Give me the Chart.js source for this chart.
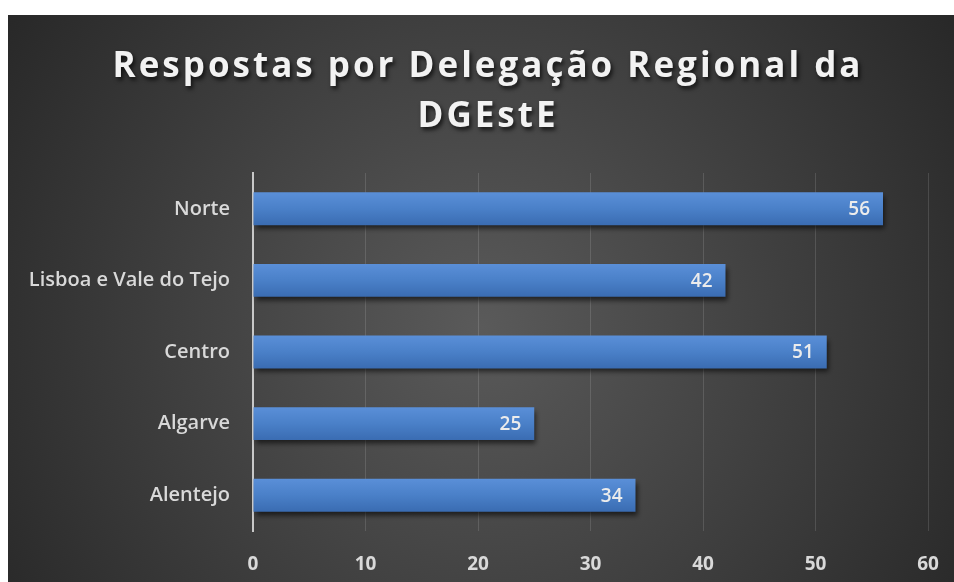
<!DOCTYPE html>
<html>
<head>
<meta charset="utf-8">
<script src="https://cdn.jsdelivr.net/npm/chart.js@4/dist/chart.umd.min.js"></script>
<style>
  html, body { margin: 0; padding: 0; background: #fff; overflow: hidden; }
  #wrap { position: absolute; left: 8px; top: 15px; width: 946px; height: 567px; }
</style>
</head>
<body>
<div id="wrap"><canvas id="regionChart"></canvas></div>
<script>
const regions = ['Norte', 'Lisboa e Vale do Tejo', 'Centro', 'Algarve', 'Alentejo'];
const answers = [56, 42, 51, 25, 34];
const xTicks = [0, 10, 20, 30, 40, 50, 60];
const titleLines = ['Respostas por Delegação Regional da', 'DGEstE'];

// dark radial background
const backdrop = {
    id: 'backdrop',
    beforeDraw(chart) {
        const ctx = chart.ctx;
        const w = chart.width, h = chart.height;
        const g = ctx.createRadialGradient(w * 0.5, h * 0.55, 0, w * 0.5, h * 0.55, w * 0.6);
        g.addColorStop(0, '#5a5a5a');
        g.addColorStop(1, '#282828');
        ctx.save();
        ctx.fillStyle = g;
        ctx.fillRect(0, 0, w, h);
        ctx.restore();
    }
};

// title with shadow and letter spacing
const bigTitle = {
    id: 'bigTitle',
    afterDraw(chart) {
        const ctx = chart.ctx;
        ctx.save();
        ctx.font = 'bold 35px "Open Sans"';
        ctx.letterSpacing = '3px';
        ctx.fillStyle = '#f2f2f2';
        ctx.textAlign = 'center';
        ctx.textBaseline = 'alphabetic';
        ctx.shadowColor = 'rgba(0,0,0,0.7)';
        ctx.shadowOffsetX = 2;
        ctx.shadowOffsetY = 3;
        ctx.shadowBlur = 4;
        titleLines.forEach(function (line, i) {
            ctx.fillText(line, chart.width / 2 + 7, 62 + i * 50);
        });
        ctx.restore();
    }
};

// bar gradient + shadow
const barLook = {
    id: 'barLook',
    beforeDatasetsDraw(chart) {
        const ctx = chart.ctx;
        chart.getDatasetMeta(0).data.forEach(function (bar) {
            const top = bar.y - bar.height / 2;
            const g = ctx.createLinearGradient(0, top, 0, top + bar.height);
            g.addColorStop(0, '#5a8fd8');
            g.addColorStop(0.5, '#4a80c8');
            g.addColorStop(1, '#3a6cb2');
            bar.options = Object.assign({}, bar.options, { backgroundColor: g });
        });
        ctx.save();
        ctx.shadowColor = 'rgba(0,0,0,0.6)';
        ctx.shadowOffsetX = 2;
        ctx.shadowOffsetY = 4;
        ctx.shadowBlur = 5;
    },
    afterDatasetsDraw(chart) {
        chart.ctx.restore();
    }
};

// value labels at the inner end of each bar
const valueLabels = {
    id: 'valueLabels',
    afterDatasetsDraw(chart) {
        const ctx = chart.ctx;
        const meta = chart.getDatasetMeta(0);
        ctx.save();
        ctx.font = '600 19px "Open Sans"';
        ctx.fillStyle = '#ececec';
        ctx.textAlign = 'right';
        ctx.textBaseline = 'middle';
        meta.data.forEach(function (bar, i) {
            ctx.fillText(answers[i], bar.x - 13, bar.y + 1);
        });
        ctx.restore();
    }
};

const ctx = document.getElementById('regionChart');
const regionChart = new Chart(ctx, {
    type: 'bar',
    data: {
        labels: regions,
        datasets: [{
            data: answers,
            backgroundColor: '#4a7fc6',
            borderWidth: 0,
            categoryPercentage: 1,
            barPercentage: 0.46
        }]
    },
    plugins: [backdrop, barLook, valueLabels, bigTitle],
    options: {
        indexAxis: 'y',
        responsive: true,
        maintainAspectRatio: false,
        animation: false,
        layout: {
            padding: { top: 158, right: 26, left: 0, bottom: 0 }
        },
        scales: {
            x: {
                min: 0,
                max: 60,
                afterBuildTicks: function (scale) {
                    scale.ticks = xTicks.map(function (v) { return { value: v }; });
                },
                afterFit: function (scale) {
                    scale.height = 51;
                    scale.paddingRight = 0;
                    scale.paddingLeft = 0;
                },
                grid: {
                    color: 'rgba(255,255,255,0.13)',
                    drawTicks: false
                },
                border: { display: false },
                ticks: {
                    color: '#d9d9d9',
                    padding: 22,
                    font: { family: 'Open Sans', size: 19, weight: 'bold' }
                }
            },
            y: {
                afterFit: function (scale) { scale.width = 245; },
                grid: { display: false },
                border: { display: true, color: '#c8c8c8', width: 2 },
                ticks: {
                    color: '#d9d9d9',
                    padding: 15,
                    font: { family: 'Open Sans', size: 20, weight: '600' }
                }
            }
        },
        plugins: {
            legend: { display: false },
            title: { display: false },
            tooltip: { enabled: false }
        }
    }
});
</script>
</body>
</html>
